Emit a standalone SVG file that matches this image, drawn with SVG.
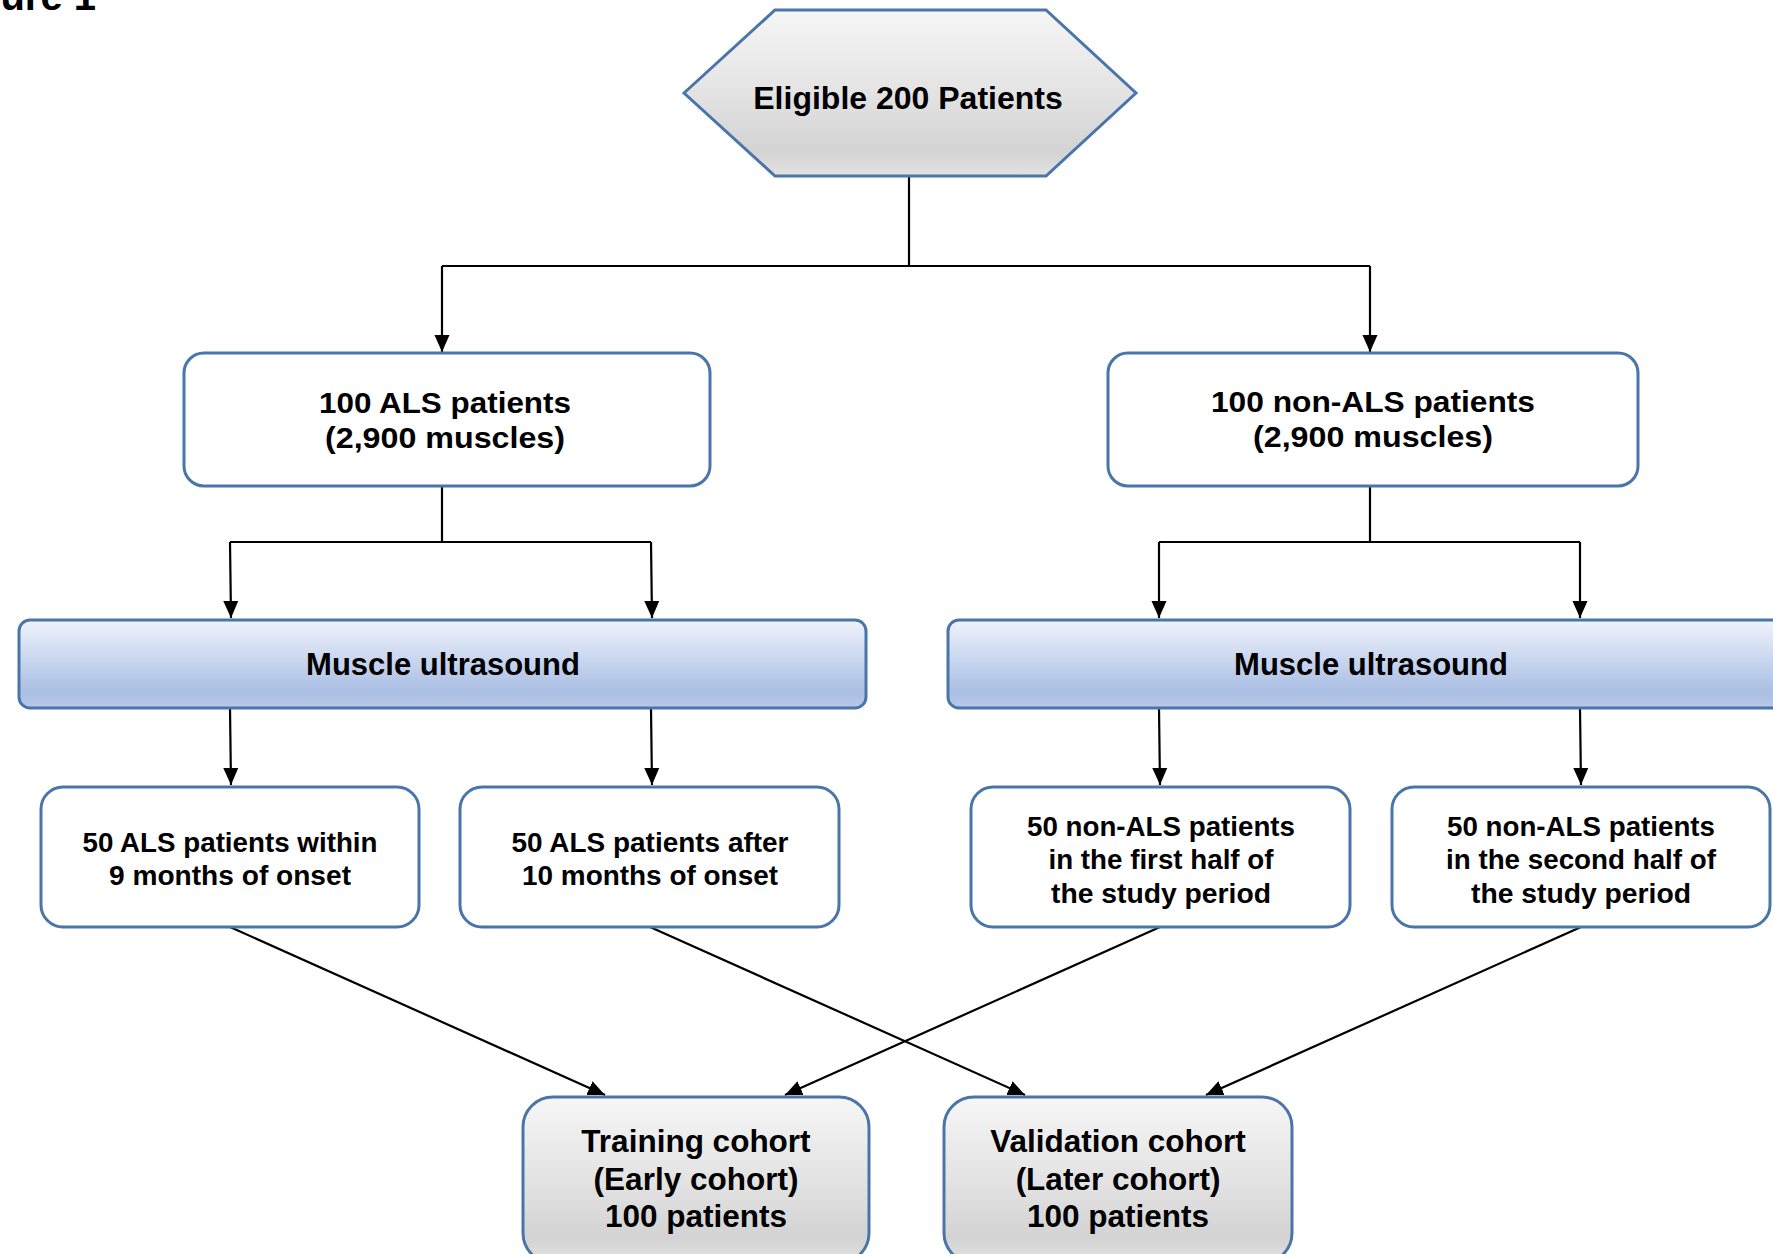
<svg xmlns="http://www.w3.org/2000/svg" width="1773" height="1254" viewBox="0 0 1773 1254">
  <style>
    text { font-family: "Liberation Sans", Arial, sans-serif; font-weight: bold; fill: #000; text-anchor: middle; }
    .box { fill: #ffffff; stroke: #4a75a8; stroke-width: 3; }
    .gray { fill: url(#grayGrad); stroke: #4a75a8; stroke-width: 3; }
    .bar { fill: url(#blueGrad); stroke: #4a75a8; stroke-width: 3; }
    .conn { fill: none; stroke: #000; stroke-width: 2.2; }
    .t1 { font-size: 30px; }
    .t3 { font-size: 27px; }
    .tb { font-size: 31.5px; }
    .tm { font-size: 31px; }
    .th { font-size: 32px; }
  </style>
  <defs>
    <linearGradient id="grayGrad" x1="0" y1="0" x2="0" y2="1">
      <stop offset="0" stop-color="#f6f6f6"/>
      <stop offset="0.5" stop-color="#e3e3e3"/>
      <stop offset="0.85" stop-color="#d3d3d3"/>
      <stop offset="1" stop-color="#e2e2e2"/>
    </linearGradient>
    <linearGradient id="blueGrad" x1="0" y1="0" x2="0" y2="1">
      <stop offset="0" stop-color="#f0f3fa"/>
      <stop offset="0.5" stop-color="#c5d3ee"/>
      <stop offset="0.82" stop-color="#a9bee3"/>
      <stop offset="1" stop-color="#b9c9e9"/>
    </linearGradient>
    <marker id="arrow" markerUnits="userSpaceOnUse" markerWidth="17" markerHeight="16" viewBox="0 0 17 15" refX="17" refY="7.5" orient="auto">
      <path d="M0,0 L17,7.5 L0,15 Z" fill="#000"/>
    </marker>
  </defs>

  <text x="96" y="10" style="font-size:40px; text-anchor:end">Figure 1</text>

  <g id="connectors">
    <path class="conn" d="M909,176 V266"/>
    <path class="conn" d="M442,266 H1370"/>
    <path class="conn" d="M442,266 V352" marker-end="url(#arrow)"/>
    <path class="conn" d="M1370,266 V352" marker-end="url(#arrow)"/>

    <path class="conn" d="M442,486 V542"/>
    <path class="conn" d="M230,542 H651"/>
    <path class="conn" d="M230,542 L231,618" marker-end="url(#arrow)"/>
    <path class="conn" d="M651,542 L652,618" marker-end="url(#arrow)"/>

    <path class="conn" d="M1370,486 V542"/>
    <path class="conn" d="M1159,542 H1580"/>
    <path class="conn" d="M1159,542 V618" marker-end="url(#arrow)"/>
    <path class="conn" d="M1580,542 V618" marker-end="url(#arrow)"/>

    <path class="conn" d="M230,708 L231,785" marker-end="url(#arrow)"/>
    <path class="conn" d="M651,708 L652,785" marker-end="url(#arrow)"/>
    <path class="conn" d="M1159,708 L1160,785" marker-end="url(#arrow)"/>
    <path class="conn" d="M1580,708 L1581,785" marker-end="url(#arrow)"/>

    <path class="conn" d="M230,927 L605,1095" marker-end="url(#arrow)"/>
    <path class="conn" d="M650,927 L1025,1095" marker-end="url(#arrow)"/>
    <path class="conn" d="M1160,927 L785,1095" marker-end="url(#arrow)"/>
    <path class="conn" d="M1581,927 L1206,1095" marker-end="url(#arrow)"/>
  </g>

  <g id="eligible">
    <polygon class="gray" points="684,93 775,10 1046,10 1136,93 1046,176 775,176"/>
    <text class="th" x="908" y="109">Eligible 200 Patients</text>
  </g>

  <g id="als">
    <rect class="box" x="184" y="353" width="526" height="133" rx="20"/>
    <text class="t1" x="445" y="413" textLength="252" lengthAdjust="spacingAndGlyphs">100 ALS patients</text>
    <text class="t1" x="445" y="448" textLength="240" lengthAdjust="spacingAndGlyphs">(2,900 muscles)</text>
  </g>

  <g id="nonals">
    <rect class="box" x="1108" y="353" width="530" height="133" rx="20"/>
    <text class="t1" x="1373" y="412" textLength="324" lengthAdjust="spacingAndGlyphs">100 non-ALS patients</text>
    <text class="t1" x="1373" y="447" textLength="240" lengthAdjust="spacingAndGlyphs">(2,900 muscles)</text>
  </g>

  <g id="us-left">
    <rect class="bar" x="19" y="620" width="847" height="88" rx="11"/>
    <text class="tm" x="443" y="675">Muscle ultrasound</text>
  </g>

  <g id="us-right">
    <rect class="bar" x="948" y="620" width="847" height="88" rx="11"/>
    <text class="tm" x="1371" y="675">Muscle ultrasound</text>
  </g>

  <g id="als-early">
    <rect class="box" x="41" y="787" width="378" height="140" rx="22"/>
    <text class="t3" x="230" y="852" textLength="295" lengthAdjust="spacingAndGlyphs">50 ALS patients within</text>
    <text class="t3" x="230" y="885" textLength="242" lengthAdjust="spacingAndGlyphs">9 months of onset</text>
  </g>

  <g id="als-late">
    <rect class="box" x="460" y="787" width="379" height="140" rx="22"/>
    <text class="t3" x="650" y="852" textLength="277" lengthAdjust="spacingAndGlyphs">50 ALS patients after</text>
    <text class="t3" x="650" y="885" textLength="256" lengthAdjust="spacingAndGlyphs">10 months of onset</text>
  </g>

  <g id="nonals-first">
    <rect class="box" x="971" y="787" width="379" height="140" rx="22"/>
    <text class="t3" x="1161" y="836" textLength="268" lengthAdjust="spacingAndGlyphs">50 non-ALS patients</text>
    <text class="t3" x="1161" y="869" textLength="225" lengthAdjust="spacingAndGlyphs">in the first half of</text>
    <text class="t3" x="1161" y="903" textLength="220" lengthAdjust="spacingAndGlyphs">the study period</text>
  </g>

  <g id="nonals-second">
    <rect class="box" x="1392" y="787" width="378" height="140" rx="22"/>
    <text class="t3" x="1581" y="836" textLength="268" lengthAdjust="spacingAndGlyphs">50 non-ALS patients</text>
    <text class="t3" x="1581" y="869" textLength="270" lengthAdjust="spacingAndGlyphs">in the second half of</text>
    <text class="t3" x="1581" y="903" textLength="220" lengthAdjust="spacingAndGlyphs">the study period</text>
  </g>

  <g id="training">
    <rect class="gray" x="523" y="1097" width="346" height="166" rx="30"/>
    <text class="tb" x="696" y="1152">Training cohort</text>
    <text class="tb" x="696" y="1190">(Early cohort)</text>
    <text class="tb" x="696" y="1227">100 patients</text>
  </g>

  <g id="validation">
    <rect class="gray" x="944" y="1097" width="348" height="166" rx="30"/>
    <text class="tb" x="1118" y="1152">Validation cohort</text>
    <text class="tb" x="1118" y="1190">(Later cohort)</text>
    <text class="tb" x="1118" y="1227">100 patients</text>
  </g>
</svg>
